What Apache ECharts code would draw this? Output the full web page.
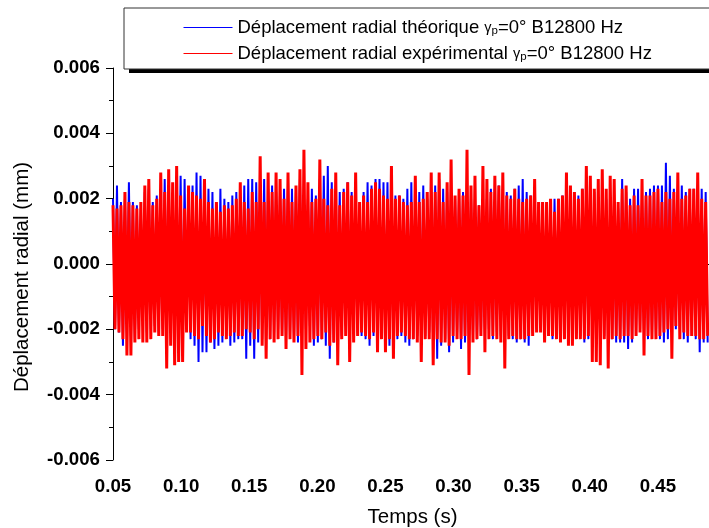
<!DOCTYPE html>
<html lang="fr">
<head>
<meta charset="utf-8">
<title>Déplacement radial - théorique / expérimental</title>
<script src="https://cdn.jsdelivr.net/npm/echarts@6/dist/echarts.min.js"></script>
<style>
    html, body { margin: 0; padding: 0; background: #fff; }
    #chart { width: 709px; height: 528px; }
</style>
</head>
<body>
<div id="chart"></div>
<script>
// échantillons : t = t0 + n * dt, valeurs en 1e-4 mm (crête haute / crête basse alternées)
var t0 = 0.05, dt = 0.00146, unit = 1e-4;

var blueHi = [20,24,19,20,25,19,18,17,22,23,19,21,20,26,19,22,27,27,26,22,24,28,27,22,23,22,18,23,20,19,21,22,19,24,26,26,25,
    24,26,23,24,22,23,23,25,23,22,26,21,20,23,21,26,27,30,25,24,22,23,25,22,19,19,22,25,24,26,26,25,25,20,21,21,20,
    23,25,23,22,24,20,23,24,26,23,22,21,20,21,22,21,21,20,18,19,20,23,23,24,23,22,21,23,24,26,22,21,20,19,19,17,18,
    20,20,21,20,22,21,21,23,20,22,22,19,22,20,19,19,17,26,22,20,23,23,20,22,23,24,24,24,31,27,23,23,24,22,23,23,24,23,22];
var blueLo = [-20,-21,-25,-21,-22,-23,-20,-19,-21,-20,-19,-21,-20,-19,-21,-20,-22,-23,-20,-23,-25,-30,-27,-27,-24,-26,-25,-24,-22,-25,-24,-23,-23,-29,-25,-29,-24,
    -23,-22,-23,-21,-20,-22,-23,-22,-23,-24,-22,-20,-19,-25,-24,-23,-25,-29,-24,-23,-22,-19,-20,-21,-21,-22,-23,-25,-22,-20,-22,-23,-25,-27,-23,-22,-24,
    -25,-23,-22,-23,-22,-21,-26,-29,-25,-23,-27,-24,-21,-26,-24,-23,-22,-23,-22,-22,-20,-23,-21,-22,-23,-22,-23,-24,-23,-24,-25,-21,-20,-19,-20,-22,-23,
    -17,-18,-20,-22,-23,-21,-22,-24,-23,-23,-21,-21,-22,-23,-23,-24,-24,-24,-26,-24,-21,-20,-21,-23,-22,-22,-23,-24,-23,-21,-20,-20,-23,-24,-22,-23,-27,-24,-24];
var redHi = [18,17,18,22,19,18,17,19,24,26,18,20,28,22,29,25,30,21,17,24,22,21,20,26,19,17,19,16,18,17,18,20,25,19,17,22,19,
    33,19,28,22,28,26,20,28,19,24,29,35,25,19,20,32,20,18,23,28,18,22,25,21,28,19,21,19,23,25,23,21,20,30,20,21,19,
    18,19,27,19,20,22,28,22,28,19,25,32,21,23,21,35,24,27,18,30,26,22,27,24,28,21,20,23,20,19,20,21,26,19,19,19,20,
    16,20,21,28,24,22,20,23,30,27,23,26,29,23,27,26,19,23,24,18,21,18,26,21,21,22,23,19,22,20,22,28,20,21,23,23,28,20,19];
var redLo = [-20,-21,-23,-28,-28,-24,-23,-24,-24,-23,-21,-22,-22,-32,-25,-31,-30,-30,-21,-21,-22,-23,-19,-22,-24,-23,-21,-22,-23,-22,-21,-22,-22,-20,-21,-23,-20,
    -25,-29,-23,-24,-23,-22,-26,-23,-24,-22,-34,-26,-24,-23,-22,-23,-21,-25,-24,-31,-23,-22,-30,-24,-22,-21,-22,-23,-21,-27,-23,-27,-23,-29,-22,-21,-22,
    -23,-23,-24,-30,-23,-23,-31,-23,-24,-24,-25,-22,-23,-23,-22,-34,-24,-23,-22,-27,-23,-22,-23,-24,-32,-23,-22,-23,-23,-23,-22,-22,-21,-21,-24,-22,-22,
    -23,-24,-23,-25,-25,-23,-23,-23,-22,-30,-30,-31,-23,-32,-23,-22,-23,-22,-22,-23,-22,-21,-28,-22,-23,-23,-22,-21,-20,-29,-19,-23,-21,-22,-22,-22,-23,-23,-22];

var seriesNames = ['théorique', 'expérimental'];
var seriesColors = ['#0000ff', '#ff0000'];

function toPoints(hi, lo) {
    var pts = [];
    for (var i = 0; i < hi.length; i++) {
        pts.push([t0 + 2 * i * dt, hi[i] * unit]);
        pts.push([t0 + (2 * i + 1) * dt, lo[i] * unit]);
    }
    return pts;
}

function legendItem(idx) {
    var c = seriesColors[idx];
    return {
        name: seriesNames[idx],
        itemStyle: {color: c, opacity: 0},
        lineStyle: {color: c, width: 1, opacity: 1}
    };
}

var font = 'Liberation Sans, Arial, sans-serif';
var chart = echarts.init(document.getElementById('chart'), null, {renderer: 'canvas'});

chart.setOption({
    animation: false,
    backgroundColor: '#fff',
    grid: {left: 113, right: -17, top: 68, bottom: 68, outerBoundsMode: 'none'},
    // ombre portée noire du cadre de légende
    graphic: [{
        type: 'rect',
        left: 129,
        top: 13,
        z: 3,
        shape: {width: 620, height: 60},
        style: {fill: '#000'}
    }],
    legend: {
        orient: 'vertical',
        left: 124,
        top: 8,
        z: 5,
        padding: [10, 200, 6, 59],
        itemGap: 7,
        itemWidth: 49,
        itemHeight: 14,
        backgroundColor: '#fff',
        borderColor: '#333',
        borderWidth: 1,
        data: [legendItem(0), legendItem(1)],
        formatter: function (name) {
            return '{t|Déplacement radial ' + name + ' }{g|γ}{s|p}{t|=0° B12800 Hz}';
        },
        textStyle: {
            color: '#000',
            fontFamily: font,
            rich: {
                t: {fontSize: 18.5, lineHeight: 19, fontFamily: font, color: '#000'},
                g: {fontSize: 14.5, lineHeight: 19, fontFamily: font, color: '#000'},
                s: {fontSize: 11.5, lineHeight: 11, verticalAlign: 'bottom', fontFamily: font, color: '#000'}
            }
        }
    },
    xAxis: {
        type: 'value',
        min: 0.05,
        max: 0.5,
        interval: 0.05,
        name: 'Temps (s)',
        nameLocation: 'middle',
        nameGap: 47,
        nameTextStyle: {fontSize: 20.5, fontFamily: font, color: '#000', padding: [0, 14, 0, 0]},
        axisLine: {lineStyle: {color: '#000', width: 1}},
        axisTick: {inside: false, length: 7, lineStyle: {color: '#000'}},
        minorTick: {show: true, splitNumber: 2, length: 4, lineStyle: {color: '#000'}},
        splitLine: {show: false},
        axisLabel: {
            fontSize: 18.7, fontWeight: 'bold', fontFamily: font, color: '#000', margin: 17,
            formatter: function (v) { return v > 0.49 ? '' : v.toFixed(2); }
        }
    },
    yAxis: {
        type: 'value',
        min: -0.006,
        max: 0.006,
        interval: 0.002,
        name: 'Déplacement radial (mm)',
        nameLocation: 'middle',
        nameGap: 80,
        nameTextStyle: {fontSize: 20.5, fontFamily: font, color: '#000', padding: [0, 26, 0, 0]},
        axisLine: {show: true, lineStyle: {color: '#000', width: 1}},
        axisTick: {show: true, inside: false, length: 7, lineStyle: {color: '#000'}},
        minorTick: {show: true, splitNumber: 2, length: 4, lineStyle: {color: '#000'}},
        splitLine: {show: false},
        axisLabel: {
            fontSize: 18.7, fontWeight: 'bold', fontFamily: font, color: '#000', margin: 13,
            formatter: function (v) { return v.toFixed(3); }
        }
    },
    series: [
        {
            name: seriesNames[0],
            type: 'line',
            data: toPoints(blueHi, blueLo),
            symbol: 'none',
            showSymbol: false,
            color: seriesColors[0],
            lineStyle: {width: 2, color: seriesColors[0], join: 'bevel'},
            z: 2
        },
        {
            name: seriesNames[1],
            type: 'line',
            data: toPoints(redHi, redLo),
            symbol: 'none',
            showSymbol: false,
            color: seriesColors[1],
            lineStyle: {width: 3, color: seriesColors[1], join: 'bevel'},
            z: 3
        }
    ]
});
</script>
</body>
</html>
